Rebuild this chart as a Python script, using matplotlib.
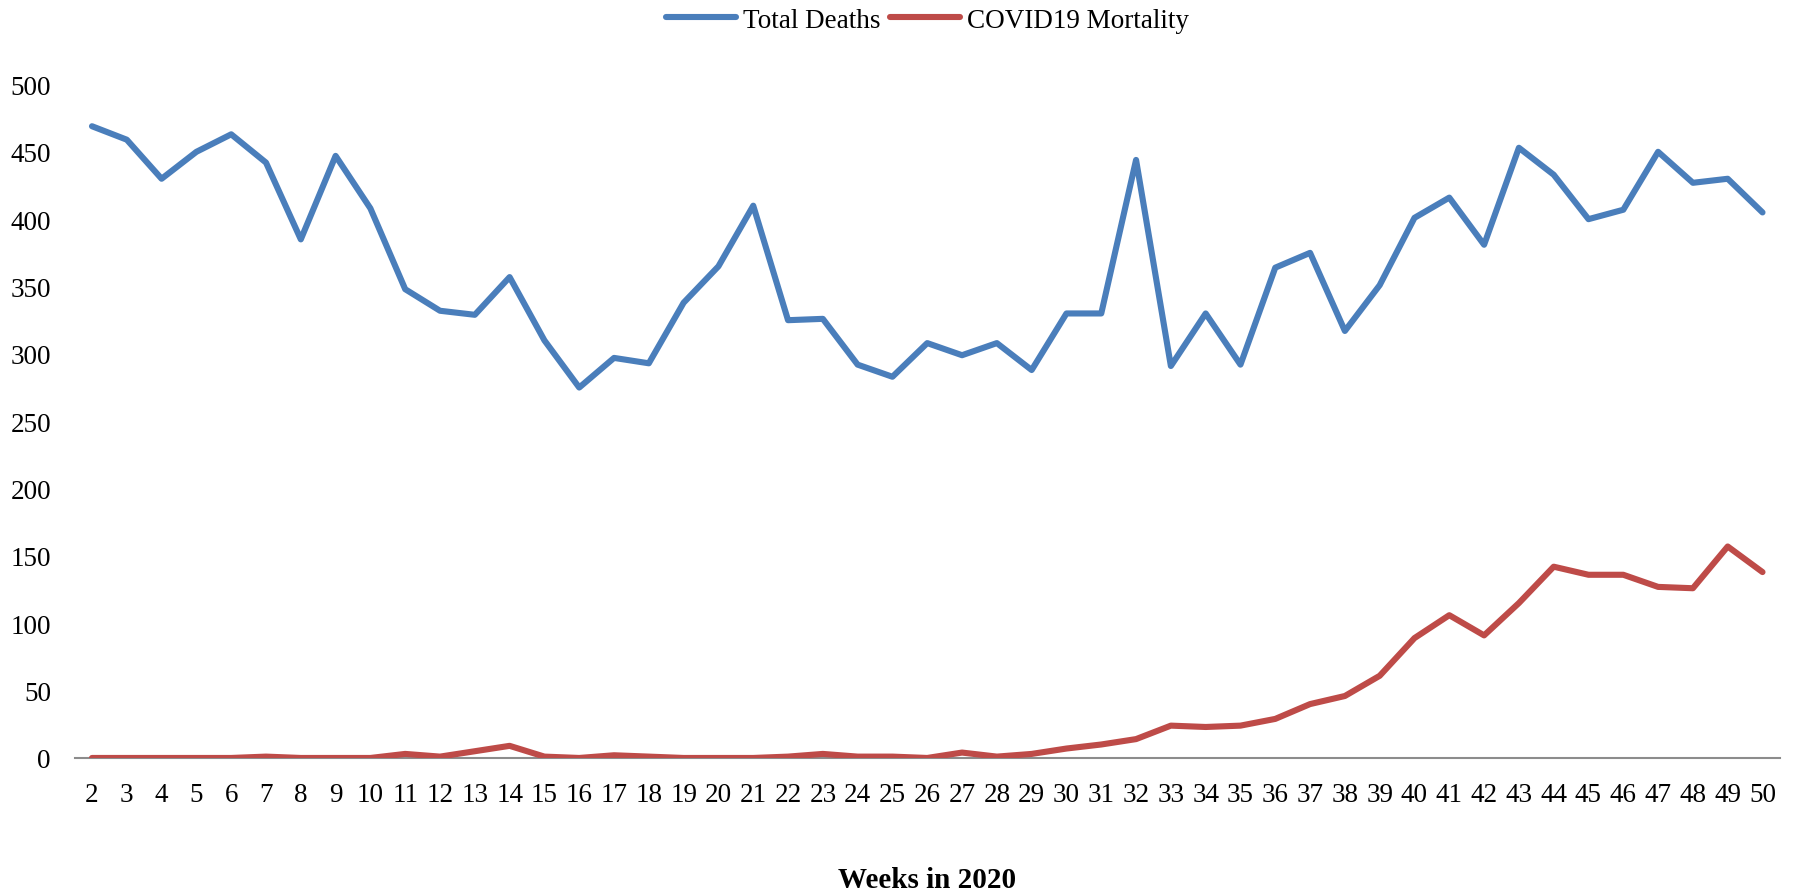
import matplotlib
matplotlib.use("Agg")
import matplotlib.pyplot as plt

weeks = list(range(2, 51))
total_deaths = [469, 459, 430, 450, 463, 442, 385, 447, 408, 348, 332, 329, 357, 310, 275, 297, 293,
                338, 365, 410, 325, 326, 292, 283, 308, 299, 308, 288, 330, 330, 444, 291, 330, 292,
                364, 375, 317, 351, 401, 416, 381, 453, 433, 400, 407, 450, 427, 430, 405]
covid_mortality = [0, 0, 0, 0, 0, 1, 0, 0, 0, 3, 1, 5, 9, 1, 0, 2, 1, 0, 0, 0, 1, 3, 1, 1,
                   0, 4, 1, 3, 7, 10, 14, 24, 23, 24, 29, 40, 46, 61, 89, 106, 91, 115, 142, 136,
                   136, 127, 126, 157, 138]
series_names = ["Total Deaths", "COVID19 Mortality"]
yticks = [0, 50, 100, 150, 200, 250, 300, 350, 400, 450, 500]
xlabel = "Weeks in 2020"

plt.rcParams['font.family'] = ['Liberation Serif', 'DejaVu Serif']

fig = plt.figure(figsize=(17.93, 8.95), dpi=100)
ax = fig.add_axes([0.0416, 0.152, 0.9511, 0.7525])

x = list(range(len(weeks)))
ax.plot(x, total_deaths, color='#4A7EBB', lw=4.4, label=series_names[0], solid_joinstyle='round', solid_capstyle='round')
ax.plot(x, covid_mortality, color='#BE4B48', lw=4.4, label=series_names[1], solid_joinstyle='round', solid_capstyle='round')

ax.set_xlim(-0.5, len(weeks) - 0.5)
ax.set_ylim(0, 500)
ax.set_xticks(x)
ax.set_xticklabels([str(w) for w in weeks])
ax.set_yticks(yticks)
ax.tick_params(axis='both', length=0, labelsize=19.5)
ax.tick_params(axis='x', pad=17)
ax.tick_params(axis='y', pad=17)
for s in ['top', 'right', 'left']:
    ax.spines[s].set_visible(False)
ax.spines['bottom'].set_color('#8C8C8C')
ax.spines['bottom'].set_linewidth(1.5)
ax.spines['bottom'].set_zorder(1)

ax.set_xlabel(xlabel, fontsize=21, fontweight='bold', labelpad=43)

leg = ax.legend(loc='upper center', bbox_to_anchor=(0.5, 1.15), ncol=2, frameon=False,
                fontsize=19.5, handlelength=2.6, handletextpad=0.25, columnspacing=0.35)

fig.savefig("out.png", dpi=100)
